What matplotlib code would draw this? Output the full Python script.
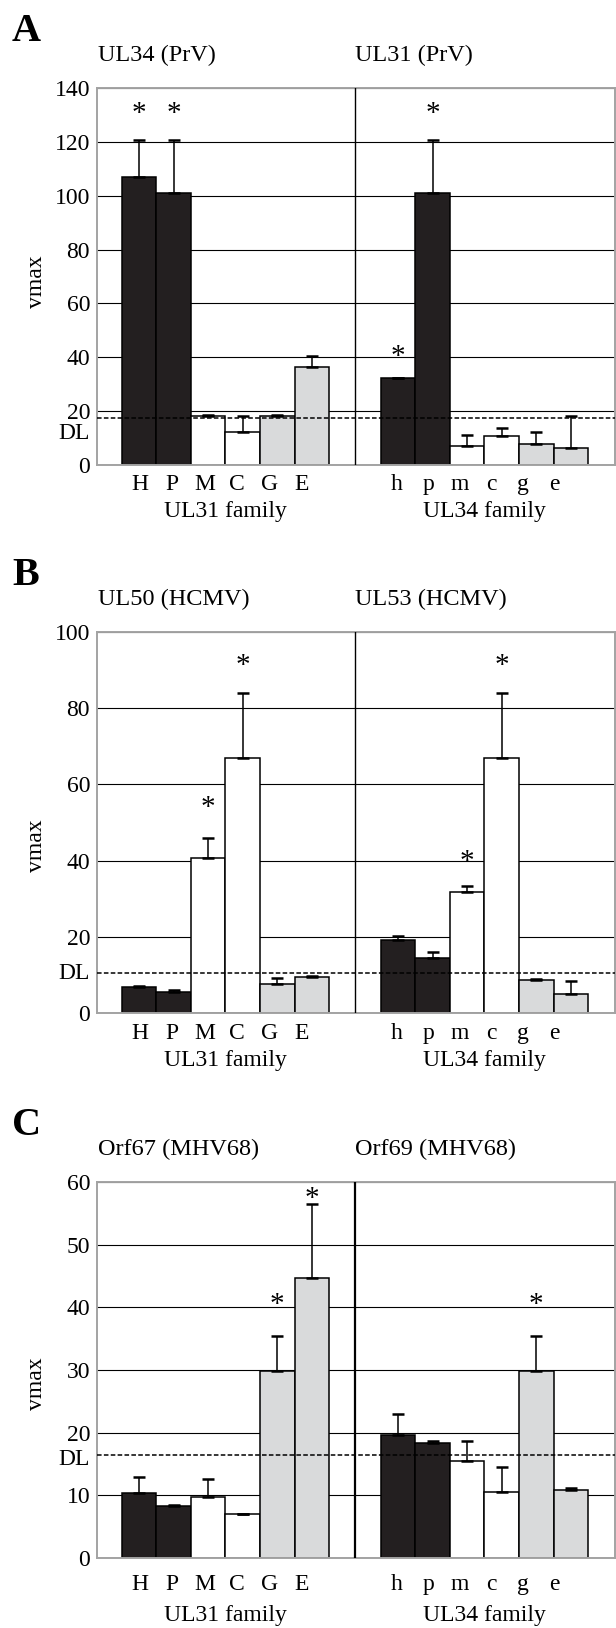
import numpy as np
import matplotlib.pyplot as plt
import matplotlib.transforms as mtransforms
plt.switch_backend('Agg')

plt.rcParams['font.family'] = ['Liberation Serif', 'DejaVu Serif']

# ---- data ----
upper_labels = ['H', 'P', 'M', 'C', 'G', 'E']
lower_labels = ['h', 'p', 'm', 'c', 'g', 'e']
family_labels = ['UL31 family', 'UL34 family']
bar_colors = ['#231f20', '#231f20', 'white', 'white', '#d9dadb', '#d9dadb']

# panel A (PrV)
a_titles = ['UL34 (PrV)', 'UL31 (PrV)']
a_left = [106.8, 101.1, 18.3, 12.1, 18.1, 36.4]
a_left_err = [13.8, 19.5, 0.2, 6.0, 0.6, 4.2]
a_left_star = [133, 133, None, None, None, None]
a_right = [32.3, 101.1, 7.2, 10.9, 7.9, 6.2]
a_right_err = [0.0, 19.5, 3.8, 2.7, 4.2, 12.0]
a_right_star = [42.7, 133, None, None, None, None]
a_dl = 17.6
a_ymax = 140
a_step = 20

# panel B (HCMV)
b_titles = ['UL50 (HCMV)', 'UL53 (HCMV)']
b_left = [6.7, 5.5, 40.7, 67.0, 7.7, 9.4]
b_left_err = [0.3, 0.5, 5.2, 17.1, 1.6, 0.4]
b_left_star = [None, None, 55.6, 93.0, None, None]
b_right = [19.2, 14.4, 31.7, 67.0, 8.6, 5.0]
b_right_err = [1.1, 1.5, 1.7, 17.1, 0.3, 3.5]
b_right_star = [None, None, 41.5, 93.0, None, None]
b_dl = 10.4
b_ymax = 100
b_step = 20

# panel C (MHV68)
c_titles = ['Orf67 (MHV68)', 'Orf69 (MHV68)']
c_left = [10.3, 8.3, 9.8, 7.0, 29.8, 44.7]
c_left_err = [2.7, 0.2, 2.8, 0.1, 5.7, 11.8]
c_left_star = [None, None, None, None, 41.5, 58.4]
c_right = [19.7, 18.4, 15.4, 10.6, 29.8, 10.9]
c_right_err = [3.2, 0.2, 3.2, 3.9, 5.7, 0.2]
c_right_star = [None, None, None, None, 41.5, None]
c_dl = 16.4
c_ymax = 60
c_step = 10

# ---- layout ----
W, H = 616, 1628
left_x = np.arange(6) + 1.22
right_x = np.arange(6) + 8.72
divider_x = 7.48
tick_left = 1.23 + 0.94 * np.arange(6)
tick_right = 8.69 + 0.91 * np.arange(6)
FS = 17


def off(ax, trans, dx=0, dy=0):
    return mtransforms.offset_copy(trans, fig=ax.figure, x=dx, y=dy, units='dots')


def panel(fig, top, bottom, letter, titles, left, left_err, left_star,
          right, right_err, right_star, dl, ymax, step,
          divider_lw, tick_base, fam_base, dl_dy, vmax_y):
    ax = fig.add_axes([97 / W, 1 - bottom / H, 518 / W, (bottom - top) / H])
    ax.set_xlim(0, 15)
    ax.set_ylim(0, ymax)
    ax.set_yticks(np.arange(0, ymax + 1, step))
    ax.tick_params(axis='y', length=0, pad=5, labelsize=FS)
    ax.set_xticks([])
    ax.yaxis.grid(True, color='black', lw=0.8)
    ax.set_axisbelow(True)
    for s in ax.spines.values():
        s.set_color('#a3a3a3')
        s.set_linewidth(1.4)

    for xs, vals, errs, stars in ((left_x, left, left_err, left_star),
                                  (right_x, right, right_err, right_star)):
        ax.bar(xs, vals, width=1.0, color=bar_colors, edgecolor='black',
               linewidth=1.1, zorder=2)
        ax.errorbar(xs, vals, yerr=[np.zeros(6), errs], fmt='none',
                    ecolor='black', elinewidth=1.1, capsize=4, capthick=1.8,
                    zorder=3)
        for x, sy in zip(xs, stars):
            if sy is not None:
                ax.text(x, sy, '*', fontsize=21, ha='center', va='baseline',
                        transform=off(ax, ax.transData, dy=-14))

    ax.axhline(0, color='black', lw=0.8, zorder=1)
    ax.axhline(dl, color='black', lw=1.1, ls=(0, (3, 1.5)), zorder=4)
    ax.axvline(divider_x, color='black', lw=divider_lw, zorder=3)

    xt = ax.get_xaxis_transform()
    for xs, labs in ((tick_left, upper_labels), (tick_right, lower_labels)):
        for x, lab in zip(xs, labs):
            ax.text(x, 0, lab, fontsize=FS, ha='center', va='baseline',
                    transform=off(ax, xt, dy=-tick_base))
    ax.text(left_x.mean(), 0, family_labels[0], fontsize=FS, ha='center',
            va='baseline', transform=off(ax, xt, dy=-fam_base))
    ax.text(right_x.mean(), 0, family_labels[1], fontsize=FS, ha='center',
            va='baseline', transform=off(ax, xt, dy=-fam_base))

    # titles above each half
    ax.text(0, 1, titles[0], fontsize=17.5, ha='left', va='baseline',
            transform=off(ax, xt, dx=1, dy=27))
    ax.text(divider_x, 1, titles[1], fontsize=17.5, ha='left', va='baseline',
            transform=off(ax, xt, dy=27))
    ax.text(0, 1, letter, fontsize=29, fontweight='bold', ha='left',
            va='baseline', transform=off(ax, ax.transAxes, dx=-85, dy=47))

    # detection limit label and y label
    yt = ax.get_yaxis_transform()
    ax.text(0, dl, 'DL', fontsize=FS, ha='right', va='center',
            transform=off(ax, yt, dx=-7, dy=dl_dy))
    ax.text(0, vmax_y, 'vmax', fontsize=FS, rotation=90, ha='center',
            va='center', transform=off(ax, ax.transAxes, dx=-60))
    return ax


fig = plt.figure(figsize=(W / 100, H / 100), dpi=100)

panel(fig, 88, 465, 'A', a_titles, a_left, a_left_err, a_left_star,
      a_right, a_right_err, a_right_star, a_dl, a_ymax, a_step,
      1.0, 25, 52, -16, 0.485)
panel(fig, 632, 1013, 'B', b_titles, b_left, b_left_err, b_left_star,
      b_right, b_right_err, b_right_star, b_dl, b_ymax, b_step,
      1.0, 26, 53, 0, 0.438)
panel(fig, 1182, 1558, 'C', c_titles, c_left, c_left_err, c_left_star,
      c_right, c_right_err, c_right_star, c_dl, c_ymax, c_step,
      1.6, 32, 63, -4, 0.463)

fig.savefig('out.png', dpi=100)
plt.close(fig)
